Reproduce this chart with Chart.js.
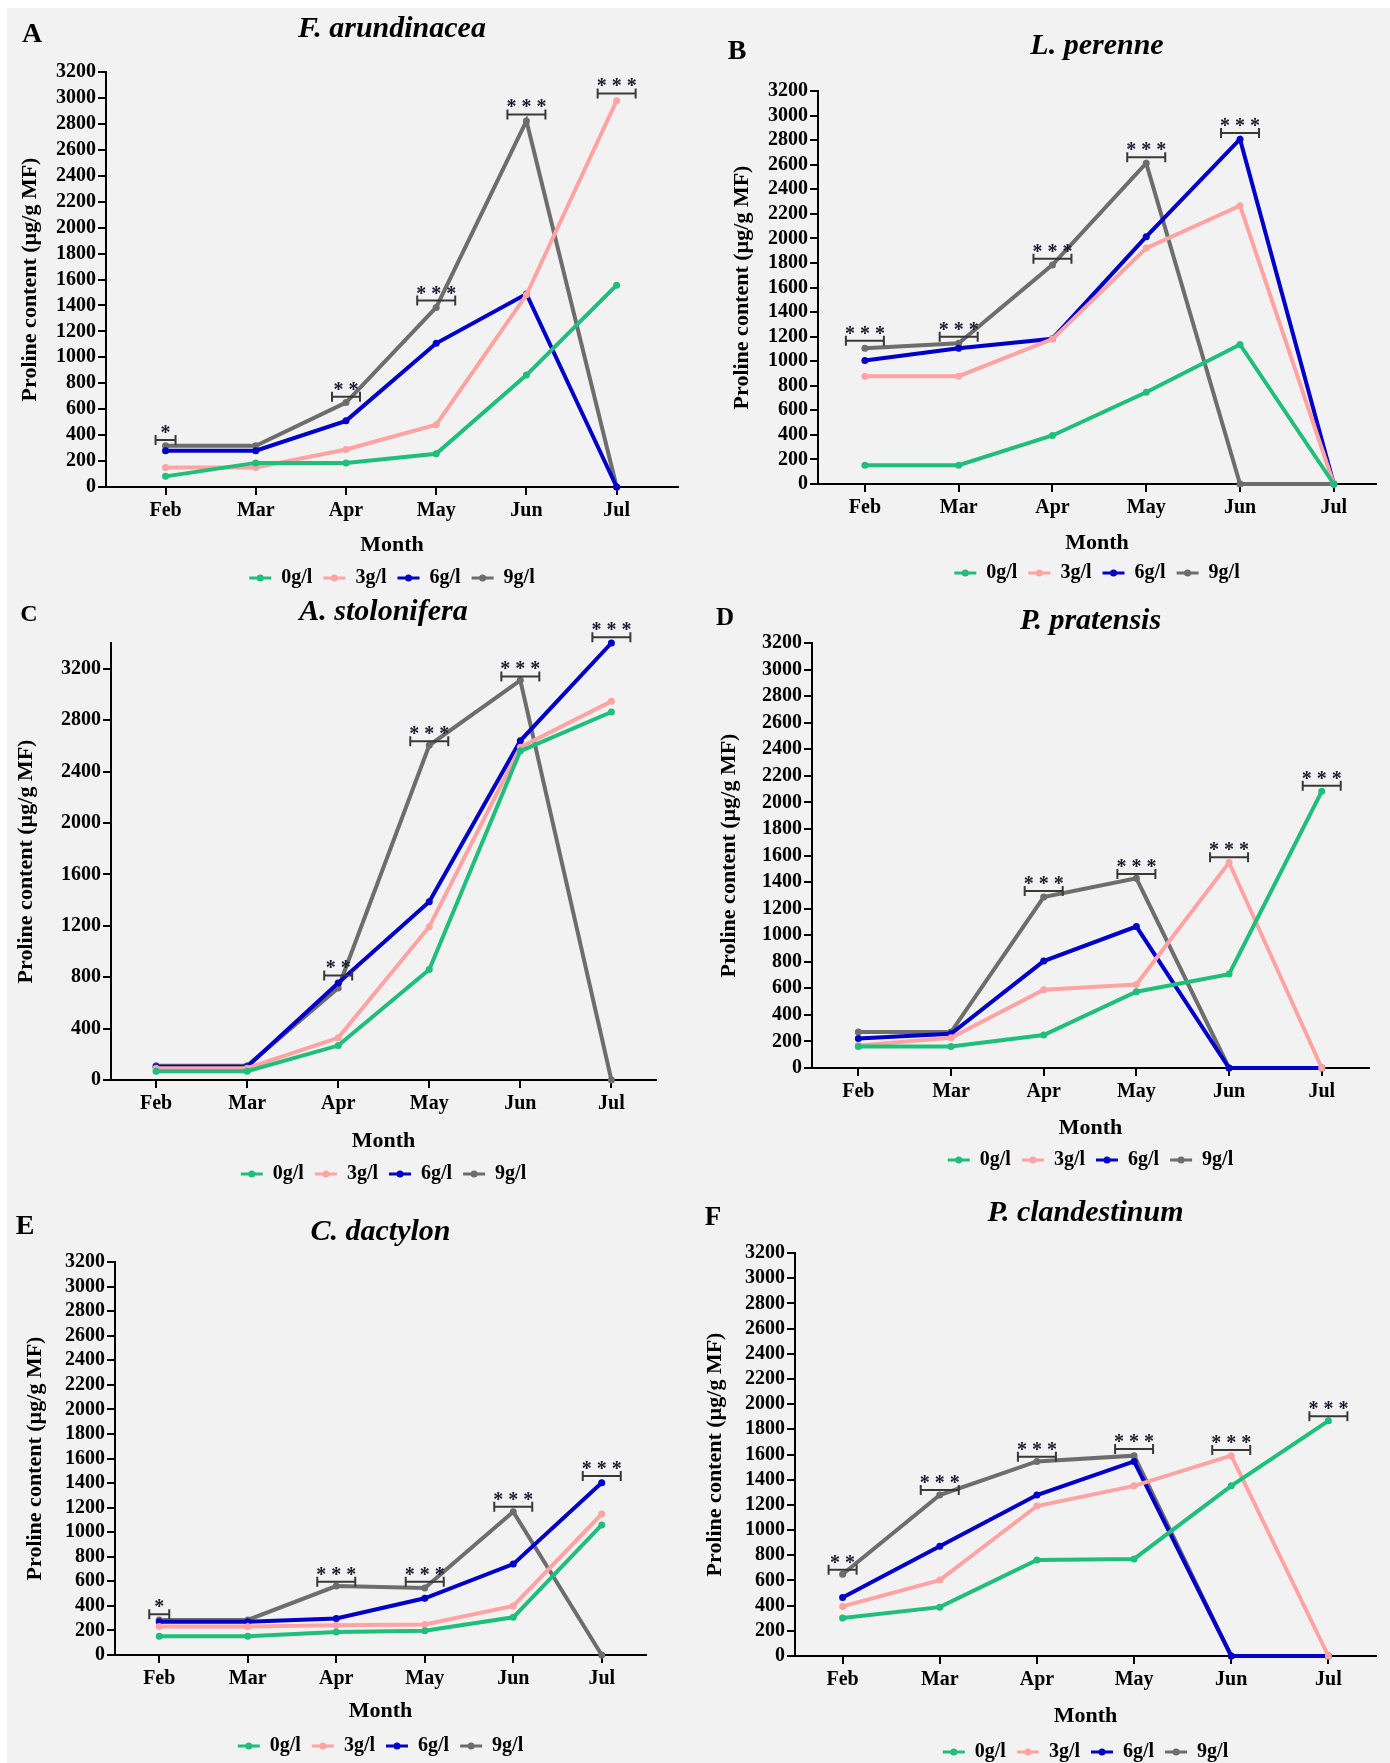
<!DOCTYPE html>
<html>
<head>
<meta charset="utf-8">
<title>Proline content</title>
<script src="https://cdn.jsdelivr.net/npm/chart.js@4.4.1/dist/chart.umd.min.js"></script>
<style>
  body { margin: 0; background: #fff; }
  #page { position: relative; width: 1390px; height: 1763px; background: #fff; overflow: hidden; }
  #sheet { position: absolute; left: 7px; top: 8px; right: 0; bottom: 0; background: #f2f2f2; }
  canvas { position: absolute; }
</style>
</head>
<body>
<div id="page">
  <div id="sheet"></div>
  <canvas id="panelA"></canvas>
  <canvas id="panelB"></canvas>
  <canvas id="panelC"></canvas>
  <canvas id="panelD"></canvas>
  <canvas id="panelE"></canvas>
  <canvas id="panelF"></canvas>
</div>
<script>
// Месяцы и концентрации соли
const months = ['Feb', 'Mar', 'Apr', 'May', 'Jun', 'Jul'];
const doses = ['0g/l', '3g/l', '6g/l', '9g/l'];
const doseColors = ['#1fbf7b', '#ffa3a3', '#0000c8', '#6d6d6d'];

// Пролин (µg/g MF), строки: 0, 3, 6, 9 g/l
const arundinacea = [
    [82, 186, 186, 256, 863, 1556],
    [150, 150, 289, 480, 1482, 2979],
    [280, 280, 510, 1108, 1488, 0],
    [318, 318, 651, 1385, 2823, 0]
];
const perenne = [
    [153, 153, 395, 747, 1136, 0],
    [878, 878, 1180, 1921, 2266, 0],
    [1005, 1105, 1183, 2014, 2808, 0],
    [1105, 1146, 1784, 2612, 0, 0]
];
const stolonifera = [
    [69, 69, 268, 859, 2559, 2863],
    [92, 92, 328, 1193, 2589, 2946],
    [104, 104, 754, 1387, 2639, 3400],
    [110, 110, 716, 2604, 3110, 0]
];
const pratensis = [
    [162, 162, 248, 574, 707, 2083],
    [170, 228, 589, 629, 1547, 0],
    [222, 257, 805, 1065, 0, 0],
    [271, 271, 1287, 1428, 0, 0]
];
const dactylon = [
    [152, 152, 188, 197, 307, 1059],
    [233, 233, 242, 248, 400, 1148],
    [271, 271, 298, 462, 740, 1402],
    [286, 286, 561, 546, 1166, 0]
];
const clandestinum = [
    [301, 388, 762, 771, 1351, 1867],
    [394, 603, 1191, 1351, 1591, 0],
    [464, 872, 1278, 1545, 0, 0],
    [649, 1278, 1545, 1591, 0, 0]
];

// Значимость: [месяц, уровень скобки, звёзды]
const arundinaceaSig = [[0, 362, '*'], [2, 695, '**'], [3, 1438, '***'], [4, 2873, '***'], [5, 3035, '***']];
const perenneSig = [[0, 1167, '***'], [1, 1198, '***'], [2, 1834, '***'], [3, 2661, '***'], [4, 2858, '***']];
const stoloniferaSig = [[2, 814, '**'], [3, 2636, '***'], [4, 3140, '***'], [5, 3444, '***']];
const pratensisSig = [[2, 1333, '***'], [3, 1460, '***'], [4, 1587, '***'], [5, 2126, '***']];
const dactylonSig = [[0, 331, '*'], [2, 596, '***'], [3, 596, '***'], [4, 1208, '***'], [5, 1458, '***']];
const clandestinumSig = [[0, 684, '**'], [1, 1319, '***'], [2, 1583, '***'], [3, 1643, '***'], [4, 1635, '***'], [5, 1904, '***']];

const FONT = "'Liberation Serif', 'Times New Roman', serif";
const LH = 22 * 1.2;

// Раскладка панелей на странице
const panels = [
    { id: 'panelA', letter: 'A', letterSize: 28, title: 'F. arundinacea', values: arundinacea, sig: arundinaceaSig,
      box: [0, 0, 695, 595], area: [106, 72, 678, 487], xRange: [-0.66, 5.68], yMax: 3200, yStep: 200,
      titleY: 29, letterPos: [32, 35], monthY: 545, legendY: 578, yTitleX: 30 },
    { id: 'panelB', letter: 'B', letterSize: 28, title: 'L. perenne', values: perenne, sig: perenneSig,
      box: [695, 0, 695, 595], area: [818, 91, 1376, 484], xRange: [-0.5, 5.45], yMax: 3200, yStep: 200,
      titleY: 46, letterPos: [737, 52], monthY: 543, legendY: 573, yTitleX: 742 },
    { id: 'panelC', letter: 'C', letterSize: 24, title: 'A. stolonifera', values: stolonifera, sig: stoloniferaSig,
      box: [0, 595, 695, 600], area: [111, 643, 656, 1080], xRange: [-0.495, 5.49], yMax: 3400, yStep: 400,
      titleY: 612, letterPos: [29, 615], monthY: 1141, legendY: 1174, yTitleX: 26 },
    { id: 'panelD', letter: 'D', letterSize: 25, title: 'P. pratensis', values: pratensis, sig: pratensisSig,
      box: [695, 595, 695, 600], area: [812, 643, 1369, 1068], xRange: [-0.5, 5.51], yMax: 3200, yStep: 200,
      titleY: 621, letterPos: [725, 619], monthY: 1128, legendY: 1160, yTitleX: 729 },
    { id: 'panelE', letter: 'E', letterSize: 28, title: 'C. dactylon', values: dactylon, sig: dactylonSig,
      box: [0, 1195, 695, 568], area: [115, 1262, 646, 1655], xRange: [-0.5, 5.5], yMax: 3200, yStep: 200,
      titleY: 1232, letterPos: [25, 1227], monthY: 1711, legendY: 1746, yTitleX: 35 },
    { id: 'panelF', letter: 'F', letterSize: 27, title: 'P. clandestinum', values: clandestinum, sig: clandestinumSig,
      box: [695, 1195, 695, 568], area: [795, 1253, 1376, 1656], xRange: [-0.49, 5.49], yMax: 3200, yStep: 200,
      titleY: 1213, letterPos: [713, 1218], monthY: 1716, legendY: 1752, yTitleX: 715 }
];

// Буква панели, название вида, скобки значимости и легенда
const extrasPlugin = {
    id: 'panelExtras',
    afterDraw(chart, args, opts) {
        const { ctx, chartArea, scales: { x, y } } = chart;
        const midX = (chartArea.left + chartArea.right) / 2;
        ctx.save();
        ctx.fillStyle = '#000';
        ctx.textAlign = 'center';
        ctx.textBaseline = 'middle';
        ctx.font = `bold ${opts.letterSize}px ${FONT}`;
        ctx.fillText(opts.letter, opts.letterX, opts.letterY);
        ctx.font = `italic bold 30px ${FONT}`;
        ctx.fillText(opts.title, midX, opts.titleY);

        opts.sig.forEach(([i, v, stars]) => {
            const cx = x.getPixelForValue(i);
            const cy = y.getPixelForValue(v);
            const hw = [0, 10, 14, 19][stars.length];
            ctx.strokeStyle = '#383838';
            ctx.lineWidth = 2;
            ctx.beginPath();
            ctx.moveTo(cx - hw, cy); ctx.lineTo(cx + hw, cy);
            ctx.moveTo(cx - hw, cy - 5); ctx.lineTo(cx - hw, cy + 5);
            ctx.moveTo(cx + hw, cy - 5); ctx.lineTo(cx + hw, cy + 5);
            ctx.stroke();
            ctx.font = `bold 20px ${FONT}`;
            ctx.fillStyle = '#1a1a2e';
            ctx.textBaseline = 'alphabetic';
            ctx.fillText(stars.split('').join(' '), cx, cy - 1);
        });

        ctx.font = `bold 20px ${FONT}`;
        ctx.textAlign = 'left';
        ctx.textBaseline = 'middle';
        const items = chart.data.datasets.map(ds => ({
            label: ds.label, color: ds.borderColor, w: 32 + ctx.measureText(ds.label).width
        }));
        const total = items.reduce((s, it) => s + it.w, 0) + 11 * (items.length - 1);
        let lx = midX - total / 2;
        const ly = opts.legendY;
        items.forEach(it => {
            ctx.strokeStyle = it.color;
            ctx.fillStyle = it.color;
            ctx.lineWidth = 3;
            ctx.beginPath();
            ctx.moveTo(lx, ly); ctx.lineTo(lx + 22, ly);
            ctx.stroke();
            ctx.beginPath();
            ctx.arc(lx + 11, ly, 3.5, 0, Math.PI * 2);
            ctx.fill();
            ctx.fillStyle = '#000';
            ctx.fillText(it.label, lx + 32, ly);
            lx += it.w + 11;
        });
        ctx.restore();
    }
};

panels.forEach(p => {
    const [bx, by, bw, bh] = p.box;
    const [L, T, R, B] = p.area;
    const canvas = document.getElementById(p.id);
    canvas.width = bw;
    canvas.height = bh;
    canvas.style.left = bx + 'px';
    canvas.style.top = by + 'px';

    const xh = p.monthY - B + LH / 2;
    const yw = L - bx;
    const tickFont = { family: FONT, size: 20, weight: 'bold' };
    const titleFont = { family: FONT, size: 22, weight: 'bold' };
    const axisGrid = { drawOnChartArea: false, tickLength: 8, color: '#000', lineWidth: 2 };
    const axisBorder = { color: '#000', width: 2 };

    new Chart(canvas, {
        type: 'line',
        data: {
            datasets: p.values.map((vals, k) => ({
                label: doses[k],
                data: vals.map((v, i) => ({ x: i, y: v })),
                borderColor: doseColors[k],
                backgroundColor: doseColors[k],
                pointBackgroundColor: doseColors[k],
                borderWidth: 4,
                pointRadius: 3.5,
                pointBorderWidth: 0,
                tension: 0,
                clip: false
            }))
        },
        options: {
            responsive: false,
            animation: false,
            events: [],
            layout: { padding: { left: 0, top: T - by, right: bx + bw - R, bottom: by + bh - B - xh } },
            scales: {
                x: {
                    type: 'linear',
                    min: p.xRange[0],
                    max: p.xRange[1],
                    afterFit: s => { s.height = xh; },
                    // одна метка на каждый месяц
                    afterBuildTicks: s => { s.ticks = months.map((m, i) => ({ value: i })); },
                    ticks: {
                        autoSkip: false, maxRotation: 0,
                        padding: 4, color: '#000', font: tickFont,
                        callback: v => months[Math.round(v)]
                    },
                    grid: axisGrid,
                    border: axisBorder,
                    title: { display: true, text: 'Month', color: '#000', font: titleFont, padding: 0 }
                },
                y: {
                    min: 0,
                    max: p.yMax,
                    afterFit: s => { s.width = yw; },
                    ticks: {
                        stepSize: p.yStep, autoSkip: false, includeBounds: false,
                        padding: 2, color: '#000', font: tickFont,
                        callback: v => String(v)
                    },
                    grid: axisGrid,
                    border: axisBorder,
                    title: {
                        display: true, text: 'Proline content (µg/g MF)', color: '#000', font: titleFont,
                        padding: { top: p.yTitleX - bx - LH / 2, bottom: 0 }
                    }
                }
            },
            plugins: {
                legend: { display: false },
                tooltip: { enabled: false },
                panelExtras: {
                    letter: p.letter, letterSize: p.letterSize,
                    letterX: p.letterPos[0] - bx, letterY: p.letterPos[1] - by,
                    title: p.title, titleY: p.titleY - by,
                    legendY: p.legendY - by, sig: p.sig
                }
            }
        },
        plugins: [extrasPlugin]
    });
});
</script>
</body>
</html>
